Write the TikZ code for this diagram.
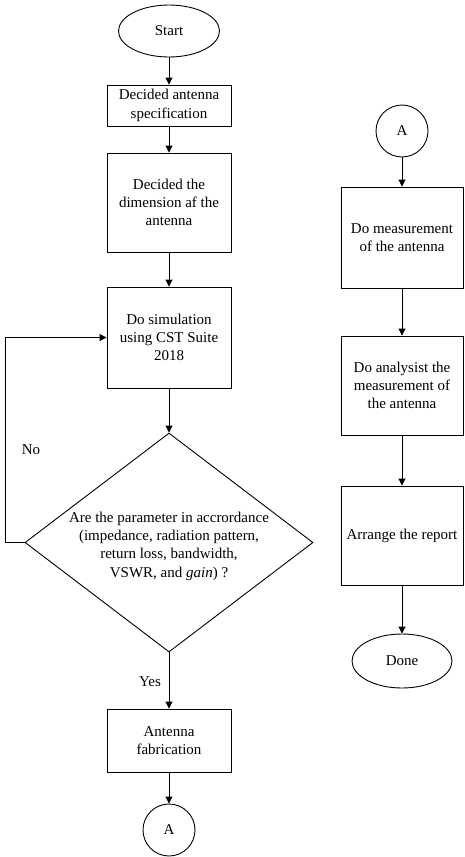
\documentclass[tikz,border=0pt]{standalone}
\usepackage{fontspec}
\setmainfont{Liberation Serif}
\usetikzlibrary{shapes.geometric,arrows.meta}
\begin{document}
\begin{tikzpicture}[x=1pt,y=-1pt,
  every node/.style={font=\fontsize{15}{18.3}\selectfont},
  box/.style={draw, line width=0.9pt, minimum width=124pt, align=center, inner sep=0pt},
  oval/.style={ellipse, draw, line width=0.9pt, inner sep=0pt},
  conn/.style={circle, draw, line width=0.9pt, minimum size=52pt, inner sep=0pt},
  arr/.style={-{Triangle[length=7pt,width=7pt]}, line width=0.9pt}]
\useasboundingbox (0,0) rectangle (464,857);

% left column
\node[oval, minimum width=101pt, minimum height=52pt] (start) at (169,31) {Start};
\node[box, minimum height=41pt] (b1) at (169,105.5) {Decided antenna\\specification};
\node[box, minimum height=99pt] (b2) at (169,202.5) {Decided the\\dimension af the\\antenna};
\node[box, minimum height=101pt] (b3) at (169,337.5) {Do simulation\\using CST Suite\\2018};
\node[diamond, draw, line width=0.9pt, minimum width=288pt, minimum height=219pt, inner sep=0pt] (dec) at (169,542.5) {};
\node[align=center, inner sep=0pt] (dectext) at (169,546) {Are the parameter in accrordance\\(impedance, radiation pattern,\\return loss, bandwidth,\\VSWR, and \textit{gain}) ?};
\node[box, minimum height=63pt] (fab) at (169,740.5) {Antenna\\fabrication};
\node[conn] (a1) at (169,830) {A};
\node (no) at (31,450) {No};
\node (yes) at (150,682) {Yes};

% right column
\node[conn] (a2) at (402,131) {A};
\node[box, minimum width=122pt, minimum height=101pt] (m1) at (402,237.5) {Do measurement\\of the antenna};
\node[box, minimum width=122pt, minimum height=99pt] (m2) at (402,385.5) {Do analysist the\\measurement of\\the antenna};
\node[box, minimum width=122pt, minimum height=99pt] (m3) at (402,535.5) {Arrange the report};
\node[oval, minimum width=100pt, minimum height=54pt] (done) at (402,661) {Done};

% connectors
\draw[arr] (start) -- (b1);
\draw[arr] (b1) -- (b2);
\draw[arr] (b2) -- (b3);
\draw[arr] (b3) -- (dec.north);
\draw[arr] (dec.south) -- (fab);
\draw[arr] (fab) -- (a1);
\draw[arr] (dec.west) -- ++(-19,0) |- (b3.west);

\draw[arr] (a2) -- (m1);
\draw[arr] (m1) -- (m2);
\draw[arr] (m2) -- (m3);
\draw[arr] (m3) -- (done);
\end{tikzpicture}
\end{document}
